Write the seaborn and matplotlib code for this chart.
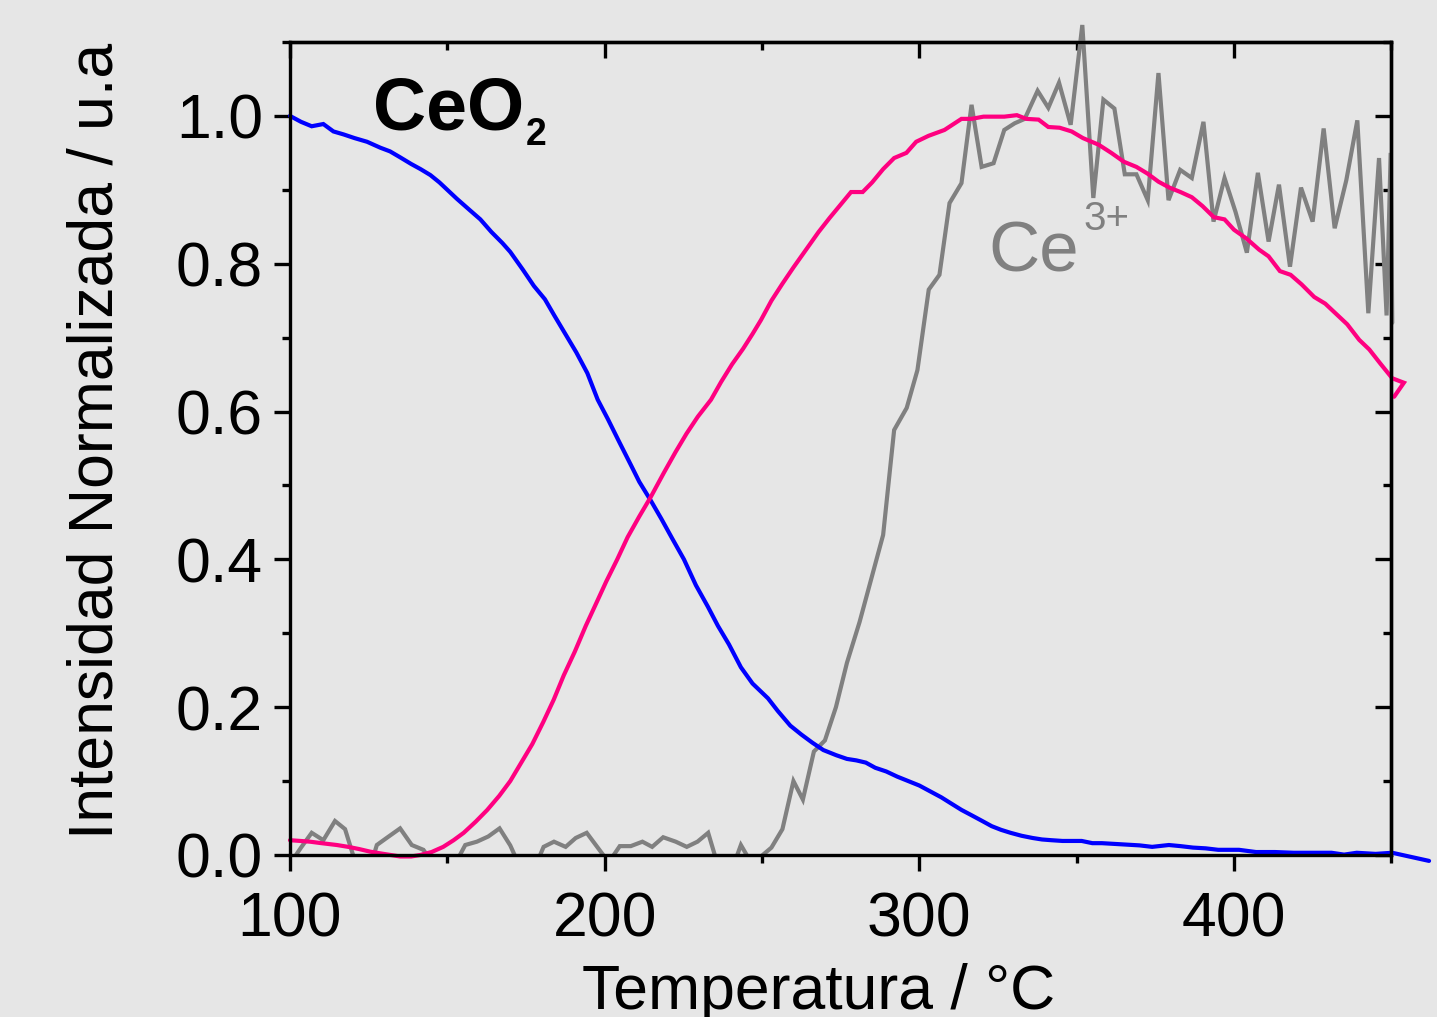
import numpy as np
import pandas as pd
import matplotlib
matplotlib.use("Agg")
import matplotlib.pyplot as plt
from matplotlib.patches import Rectangle
from matplotlib.ticker import MultipleLocator, FormatStrFormatter
import seaborn as sns

# Ce4+ signal (blue)
temp_ce4 = [100, 103.5, 106.9, 110.6, 113.8, 117, 120.5, 124.5, 128.7, 131.8, 135, 138.5,
            141.5, 144.6, 147.5, 150, 153, 157, 160.5, 164, 167.5, 170, 174, 177.5, 181,
            184, 187.5, 191, 194.5, 197.8, 201, 204.5, 208.3, 211, 214.6, 218, 221.5,
            225.2, 229, 232.8, 236, 239.5, 243.3, 247, 251.9, 255, 259, 262.5, 266, 269.5,
            273.6, 277, 280, 283, 286, 289.5, 293, 296.5, 300, 303.5, 307, 310, 313.4,
            316.5, 320, 323, 326, 329, 332.5, 336, 339, 342, 345.5, 348.5, 351.6, 355,
            358, 362, 366, 370, 374, 379.3, 383, 387, 391, 395, 401.6, 407, 413, 419, 425,
            431, 435, 439, 445, 450.3, 462]
int_ce4 = [1.0, 0.992, 0.986, 0.989, 0.979, 0.975, 0.97, 0.965, 0.957, 0.952, 0.944, 0.935,
           0.928, 0.92, 0.91, 0.90, 0.888, 0.873, 0.86, 0.843, 0.828, 0.816, 0.792, 0.77,
           0.752, 0.73, 0.705, 0.68, 0.652, 0.616, 0.59, 0.56, 0.528, 0.505, 0.48, 0.455,
           0.428, 0.40, 0.365, 0.336, 0.31, 0.285, 0.254, 0.232, 0.212, 0.195, 0.175,
           0.163, 0.152, 0.142, 0.135, 0.13, 0.128, 0.125, 0.118, 0.113, 0.106, 0.100,
           0.094, 0.086, 0.078, 0.07, 0.061, 0.054, 0.046, 0.039, 0.034, 0.03, 0.026,
           0.023, 0.021, 0.02, 0.019, 0.019, 0.019, 0.016, 0.016, 0.015, 0.014, 0.013,
           0.011, 0.0135, 0.012, 0.01, 0.009, 0.007, 0.007, 0.004, 0.004, 0.003, 0.003,
           0.003, 0.0005, 0.003, 0.0015, 0.003, -0.008]

# Intermediate signal (magenta)
temp_mid = [100, 103.3, 106.4, 110, 114.9, 118.5, 122, 125.5, 129, 132, 135, 138.5, 141.4,
            145, 148.7, 152, 155.2, 159, 162.7, 166.5, 170, 173.5, 177, 180.5, 183.8, 187,
            190.5, 194, 197.8, 200.5, 204, 207.3, 211, 214.6, 218.8, 222.5, 226, 229.6,
            233.8, 237, 240.5, 244, 247, 249.7, 253, 256.5, 260, 264, 268, 271.5, 275,
            278.3, 282, 285, 288.5, 292, 295.9, 299, 302.9, 308, 313.4, 316.6, 320.4, 327,
            331, 334, 337.9, 341, 344.6, 348.4, 352, 357, 361, 365, 369, 372.5, 376, 379.5,
            383, 386.6, 390, 393.6, 397, 400, 404, 408, 411, 414.6, 418, 421.5, 425.5, 429,
            432.5, 436, 439.8, 443, 446.5, 450.3, 454, 450.9]
int_mid = [0.02, 0.019, 0.018, 0.016, 0.0135, 0.011, 0.008, 0.0045, 0.002, 0.0, -0.002,
           -0.002, 0.0, 0.004, 0.011, 0.02, 0.03, 0.045, 0.061, 0.08, 0.1, 0.125, 0.15,
           0.18, 0.21, 0.243, 0.275, 0.31, 0.345, 0.37, 0.40, 0.43, 0.458, 0.484, 0.517,
           0.545, 0.57, 0.593, 0.616, 0.64, 0.664, 0.685, 0.705, 0.724, 0.75, 0.773, 0.795,
           0.819, 0.843, 0.862, 0.88, 0.897, 0.897, 0.91, 0.928, 0.943, 0.95, 0.965, 0.973,
           0.981, 0.996, 0.996, 0.999, 0.999, 1.001, 0.996, 0.995, 0.985, 0.984, 0.979,
           0.97, 0.961, 0.95, 0.938, 0.931, 0.922, 0.911, 0.903, 0.897, 0.89, 0.878, 0.863,
           0.86, 0.846, 0.834, 0.819, 0.81, 0.79, 0.785, 0.772, 0.755, 0.746, 0.732, 0.718,
           0.697, 0.684, 0.665, 0.645, 0.639, 0.62]

# Ce3+ signal (gray)
temp_ce3 = [100, 103.5, 106.9, 110.6, 114.3, 117.5, 121.5, 124.5, 127.6, 130.7, 135, 138.7,
            142.4, 145.5, 149, 152.5, 155.7, 159.4, 163, 166.6, 170, 173.5, 177, 180.6,
            183.9, 187.6, 190.8, 194.3, 197.8, 201.3, 204.8, 208.3, 212, 215.1, 218.6,
            222.6, 226.1, 229.5, 232.9, 236.4, 240, 243.3, 246.5, 249.4, 253, 256.5, 260,
            263, 266.5, 270, 273.5, 277, 281, 284.5, 288.5, 292, 296, 299.4, 303, 306.4,
            309.6, 313.4, 316.6, 319.8, 323.6, 327, 330.3, 333.5, 337.6, 341, 344.4, 348.1,
            351.8, 355.3, 358.5, 362, 365.3, 369, 372.6, 376, 379.2, 382.9, 386.6, 390.3,
            393.5, 397, 400.5, 404.1, 407.6, 411, 414.3, 417.8, 421.3, 425, 428.5, 432,
            435.7, 439.2, 442.7, 446.1, 448.5, 449.8, 450.3]
int_ce3 = [-0.012, 0.01, 0.030, 0.020, 0.046, 0.035, -0.02, -0.03, 0.0135, 0.023, 0.036,
           0.0135, 0.007, -0.012, -0.03, -0.012, 0.0135, 0.018, 0.025, 0.036, 0.013, -0.02,
           -0.025, 0.011, 0.018, 0.011, 0.023, 0.03, 0.01, -0.01, 0.012, 0.012, 0.018,
           0.011, 0.024, 0.018, 0.011, 0.018, 0.03, -0.02, -0.025, 0.0135, -0.01, -0.003,
           0.01, 0.035, 0.10, 0.075, 0.14, 0.155, 0.20, 0.26, 0.315, 0.37, 0.433, 0.575,
           0.605, 0.656, 0.765, 0.785, 0.882, 0.909, 1.015, 0.931, 0.936, 0.981, 0.99,
           0.996, 1.034, 1.011, 1.045, 0.988, 1.123, 0.889, 1.022, 1.01, 0.921, 0.921,
           0.886, 1.058, 0.886, 0.927, 0.916, 0.992, 0.857, 0.916, 0.87, 0.815, 0.923,
           0.83, 0.907, 0.796, 0.903, 0.857, 0.983, 0.848, 0.913, 0.994, 0.733, 0.943,
           0.73, 0.95, 0.72]

BG = "#e6e6e6"
sns.set_theme(style="white")
plt.rcParams["font.family"] = ["Liberation Sans", "DejaVu Sans"]
plt.rcParams["axes.facecolor"] = BG
plt.rcParams["figure.facecolor"] = BG
plt.rcParams["text.color"] = "black"
plt.rcParams["axes.labelcolor"] = "black"
plt.rcParams["xtick.color"] = "black"
plt.rcParams["ytick.color"] = "black"
plt.rcParams["lines.linewidth"] = 3.0

fig = plt.figure(figsize=(14.37, 10.17), dpi=100)
ax = fig.add_axes([0.2018, 0.1593, 0.7664, 0.7994])

df_ce4 = pd.DataFrame({"T": temp_ce4, "I": int_ce4})
df_mid = pd.DataFrame({"T": temp_mid, "I": int_mid})
df_ce3 = pd.DataFrame({"T": temp_ce3, "I": int_ce3})

LW = 3.0
sns.lineplot(data=df_ce3, x="T", y="I", ax=ax, color="#808080", linewidth=LW,
             sort=False, estimator=None)
gray_line = ax.lines[-1]
sns.lineplot(data=df_ce4, x="T", y="I", ax=ax, color="#0000ff", linewidth=LW,
             sort=False, estimator=None)
blue_line = ax.lines[-1]
sns.lineplot(data=df_mid, x="T", y="I", ax=ax, color="#ff0080", linewidth=LW,
             sort=False, estimator=None)
pink_line = ax.lines[-1]
for ln in ax.lines:
    ln.set_linewidth(LW)
    ln.set_solid_joinstyle("miter")

# the Ce3+ trace is cut at zero but may run past the top and right edges
clip = Rectangle((0, 0), 1.2, 1.2, transform=ax.transAxes, facecolor="none",
                 edgecolor="none")
gray_line.set_clip_path(clip)
blue_line.set_clip_on(False)
pink_line.set_clip_on(False)

ax.set_xlim(100, 450)
ax.set_ylim(0, 1.1)

FS = 45
ax.set_xlabel("Temperatura / °C", fontsize=FS, labelpad=10, x=0.48, color="black")
ax.set_ylabel("Intensidad Normalizada / u.a", fontsize=FS, labelpad=36, y=0.509,
              color="black")

ax.xaxis.set_major_locator(MultipleLocator(100))
ax.xaxis.set_minor_locator(MultipleLocator(50))
ax.yaxis.set_major_locator(MultipleLocator(0.2))
ax.yaxis.set_minor_locator(MultipleLocator(0.1))
ax.yaxis.set_major_formatter(FormatStrFormatter("%.1f"))

SW = 2.4
for s in ax.spines.values():
    s.set_visible(True)
    s.set_linewidth(SW)
    s.set_color("black")

ax.tick_params(which="major", direction="out", length=11.5, width=SW, labelsize=FS,
               colors="black", bottom=True, left=True, top=False, right=False)
ax.tick_params(which="minor", direction="out", length=5.5, width=SW, colors="black",
               bottom=True, left=True, top=False, right=False)
ax.tick_params(axis="x", which="major", pad=14)
ax.tick_params(axis="y", which="major", pad=8)

secx = ax.secondary_xaxis("top")
secx.xaxis.set_major_locator(MultipleLocator(100))
secx.xaxis.set_minor_locator(MultipleLocator(50))
secx.tick_params(which="major", direction="in", length=11.5, width=SW, labeltop=False,
                 colors="black")
secx.tick_params(which="minor", direction="in", length=5.5, width=SW, colors="black")
secx.spines["top"].set_linewidth(SW)
secx.spines["top"].set_color("black")

secy = ax.secondary_yaxis("right")
secy.yaxis.set_major_locator(MultipleLocator(0.2))
secy.yaxis.set_minor_locator(MultipleLocator(0.1))
secy.tick_params(which="major", direction="in", length=11.5, width=SW, labelright=False,
                 colors="black")
secy.tick_params(which="minor", direction="in", length=5.5, width=SW, colors="black")
secy.spines["right"].set_linewidth(SW)
secy.spines["right"].set_color("black")

# sample label and species annotation
ax.text(126.4, 0.981, "CeO", fontsize=53, fontweight="bold", ha="left", va="baseline",
        color="black")
ax.text(174.8, 0.961, "2", fontsize=27, fontweight="bold", ha="left", va="baseline",
        color="black")
ax.text(322.0, 0.789, "Ce", fontsize=51, color="#808080", ha="left", va="baseline")
ax.text(352.2, 0.846, "3+", fontsize=29, color="#808080", ha="left", va="baseline")

fig.savefig("out.png", dpi=100, facecolor=BG)
